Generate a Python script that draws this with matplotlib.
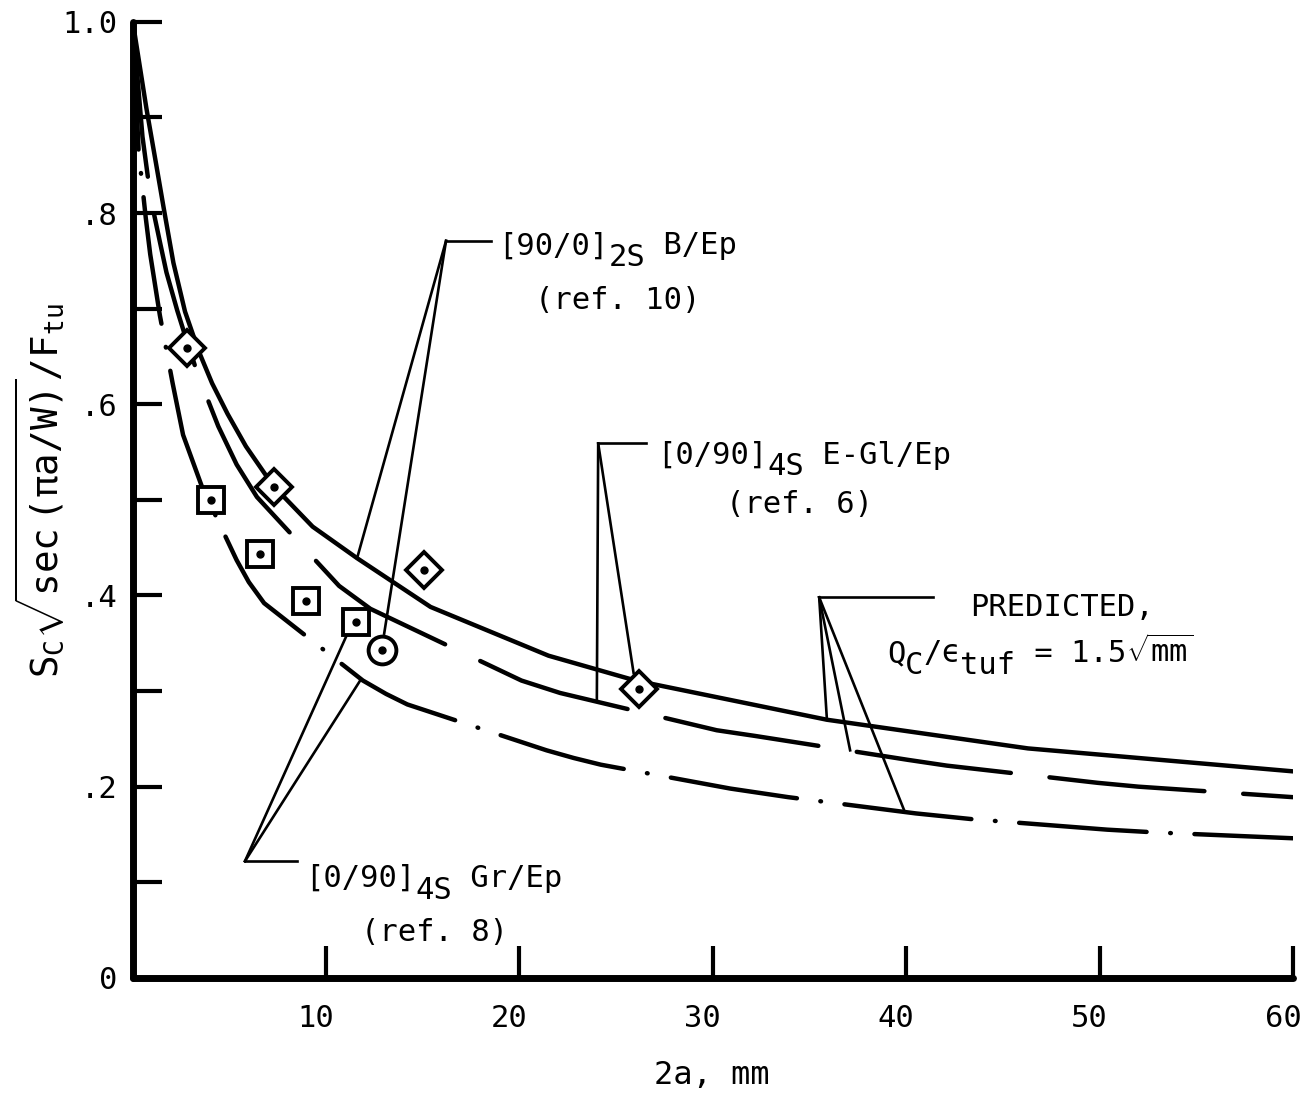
import numpy as np
import matplotlib
matplotlib.use("Agg")
import matplotlib.pyplot as plt
import matplotlib.transforms as mtransforms
from matplotlib.ticker import FixedLocator, FuncFormatter

plt.rcParams["font.family"] = ["DejaVu Sans Mono", "DejaVu Sans"]
plt.rcParams["mathtext.fontset"] = "custom"
plt.rcParams["mathtext.rm"] = "DejaVu Sans Mono"
plt.rcParams["mathtext.it"] = "DejaVu Sans Mono"
plt.rcParams["mathtext.bf"] = "DejaVu Sans Mono"
plt.rcParams["lines.scale_dashes"] = False

# predicted curves (2a in mm, normalized strength)
solid_x = [0.0, 0.7, 1.2, 1.6, 2.1, 2.7, 3.4, 4.1, 4.9, 5.85, 7.25, 9.3, 11.6, 15.4, 21.5, 26.0, 35.9, 46.3, 60.0]
solid_y = [1.0, 0.91, 0.852, 0.805, 0.748, 0.697, 0.656, 0.622, 0.590, 0.556, 0.515, 0.472, 0.439, 0.388, 0.337, 0.311, 0.270, 0.240, 0.216]

dash_x = [0.0, 0.5, 0.93, 1.4, 1.74, 2.3, 2.81, 3.35, 4.42, 5.37, 6.42, 10.67, 12.29, 20.1, 22.1, 30.2, 32.2, 40.1, 42.1, 49.9, 52.0, 60.0]
dash_y = [1.0, 0.88, 0.815, 0.770, 0.738, 0.698, 0.665, 0.632, 0.577, 0.537, 0.503, 0.410, 0.386, 0.311, 0.298, 0.259, 0.253, 0.228, 0.222, 0.204, 0.200, 0.189]

dashdot_x = [0.0, 0.3, 0.67, 0.9, 1.4, 2.06, 2.6, 3.59, 5.37, 6.0, 6.79, 11.9, 13.1, 14.2, 21.4, 22.8, 24.2, 30.9, 33.9, 40.5, 43.4, 50.4, 53.0, 60.0]
dashdot_y = [1.0, 0.865, 0.795, 0.757, 0.693, 0.622, 0.568, 0.513, 0.437, 0.414, 0.392, 0.311, 0.297, 0.286, 0.238, 0.230, 0.223, 0.198, 0.189, 0.172, 0.166, 0.155, 0.152, 0.146]

# test data
bep_x = [12.9]                    # [90/0]2S B/Ep, ref. 10
bep_y = [0.343]
egl_x = [2.8, 7.3, 15.07, 26.2]   # [0/90]4S E-Gl/Ep, ref. 6
egl_y = [0.659, 0.513, 0.427, 0.302]
gr_x = [4.05, 6.56, 8.97, 11.52]  # [0/90]4S Gr/Ep, ref. 8
gr_y = [0.500, 0.443, 0.394, 0.372]

x_ticks = [10, 20, 30, 40, 50, 60]
y_ticks = [0.1 * i for i in range(11)]
y_labels = {0: "0", 2: ".2", 4: ".4", 6: ".6", 8: ".8", 10: "1.0"}

fig = plt.figure(figsize=(13.02, 10.95), dpi=100)
ax = fig.add_axes([0.102, 0.107, 0.891, 0.873])

lw = 3.2
ax.plot(solid_x, solid_y, color="black", lw=lw, solid_capstyle="round", solid_joinstyle="round")
ax.plot(dash_x, dash_y, color="black", lw=lw, dashes=(112, 28), dash_capstyle="round")
ax.plot(dashdot_x, dashdot_y, color="black", lw=lw, dashes=(92, 17, 0.5, 17), dash_capstyle="round")

mk = dict(color="black", linestyle="none", markerfacecolor="white", markeredgewidth=2.8, zorder=4)
ax.plot(egl_x, egl_y, marker="D", markersize=18, **mk)
ax.plot(gr_x, gr_y, marker="s", markersize=18.5, **mk)
ax.plot(bep_x, bep_y, marker="o", markersize=20, **mk)
for xs, ys in [(egl_x, egl_y), (gr_x, gr_y), (bep_x, bep_y)]:
    ax.plot(xs, ys, "o", color="black", markersize=5, zorder=5)

# leader lines
ll = dict(color="black", lw=1.9)
def leader(elbow, end_x, targets):
    ax.plot([elbow[0], end_x], [elbow[1], elbow[1]], **ll)
    for tx, ty in targets:
        ax.plot([elbow[0], tx], [elbow[1], ty], **ll)

leader((16.2, 0.771), 18.55, [(11.6, 0.439), (13.0, 0.360)])
leader((24.07, 0.559), 26.55, [(24.0, 0.289), (25.9, 0.319)])
leader((35.5, 0.398), 41.4, [(35.9, 0.270), (37.1, 0.238), (39.9, 0.175)])
leader((5.8, 0.122), 8.5, [(11.1, 0.360), (11.76, 0.311)])

fs = 22
cw = 0.602 * fs  # monospace advance in points

def label(x, y, parts, center=False):
    total = sum(len(s) for s, _ in parts) * cw
    off = -total / 2 if center else 0
    for s, sub in parts:
        ax.annotate(s, (x, y), xytext=(off, -8.5 if sub else 0), textcoords="offset points",
                    fontsize=fs, va="baseline", ha="left")
        off += len(s) * cw
    return off

label(18.9, 0.757, [("[90/0]", False), ("2S", True), (" B/Ep", False)])
label(25.1, 0.700, [("(ref. 10)", False)], center=True)
label(27.1, 0.538, [("[0/90]", False), ("4S", True), (" E-Gl/Ep", False)])
label(34.5, 0.486, [("(ref. 6)", False)], center=True)
label(43.3, 0.379, [("PREDICTED,", False)])
end = label(39.0, 0.330, [("Q", False), ("C", True), ("/\u03f5", False), ("tuf", True), (" = 1.5", False)])
ax.annotate(r"$\sqrt{\mathrm{mm}}$", (39.0, 0.330), xytext=(end, 0), textcoords="offset points",
            fontsize=fs, va="baseline", ha="left")
label(8.9, 0.095, [("[0/90]", False), ("4S", True), (" Gr/Ep", False)])
label(15.6, 0.039, [("(ref. 8)", False)], center=True)

ax.set_xlim(0, 60)
ax.set_ylim(0, 1.0)
for s in ["top", "right"]:
    ax.spines[s].set_visible(False)
for s in ["left", "bottom"]:
    ax.spines[s].set_linewidth(5)
    ax.spines[s].set_capstyle("round")

ax.xaxis.set_major_locator(FixedLocator(x_ticks))
ax.yaxis.set_major_locator(FixedLocator(y_ticks))
ax.yaxis.set_major_formatter(FuncFormatter(lambda v, p: y_labels.get(int(round(v * 10)), "")))
ax.tick_params(axis="x", direction="in", length=23, width=3, labelsize=22, pad=19)
ax.tick_params(axis="y", direction="in", length=21, width=3, labelsize=22, pad=11)

shift = mtransforms.ScaledTranslation(-10 / 100, 0, fig.dpi_scale_trans)
for lab in ax.get_xticklabels():
    lab.set_transform(lab.get_transform() + shift)

ax.set_xlabel("2a, mm", fontsize=23)
ax.xaxis.set_label_coords(0.499, -0.086)
ax.set_ylabel(r"S$_C$$\sqrt{\mathrm{sec\ (\pi a/W)}}$/F$_{tu}$", fontsize=27)
ax.yaxis.set_label_coords(-0.058, 0.51)

fig.savefig("out.png", dpi=100)
